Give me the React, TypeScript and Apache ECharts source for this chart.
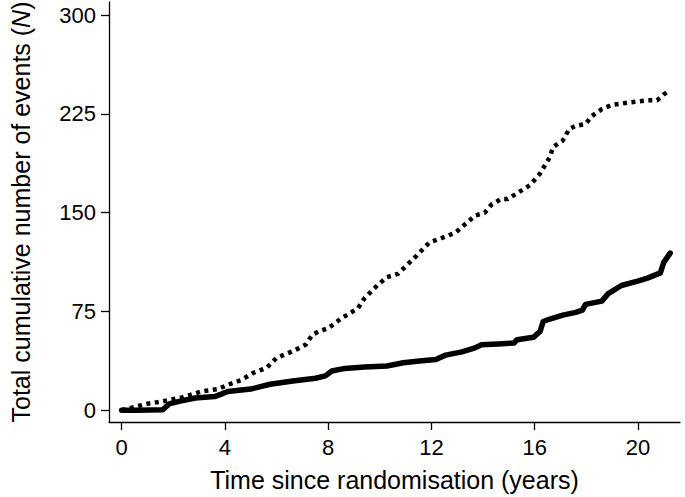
import React, { useEffect, useRef } from "react";
import * as echarts from "echarts";

const xTicks = [0, 4, 8, 12, 16, 20];
const yTicks = [0, 75, 150, 225, 300];

const solidTime = [0, 0.58, 1.59, 1.84, 2.22, 2.85, 3.6, 3.86, 4.11, 5.0, 5.75, 6.63, 7.51, 7.89, 8.14, 8.65, 9.4, 10.28, 10.91, 11.54, 12.17, 12.55, 13.18, 13.69, 13.94, 14.57, 15.2, 15.32, 15.95, 16.21, 16.33, 16.59, 17.09, 17.59, 17.85, 17.97, 18.6, 18.85, 19.36, 19.99, 20.37, 20.87, 21.0, 21.25];
const solidEvents = [0, 0, 0.3, 4.7, 6.7, 9.2, 10.3, 12.2, 14.2, 16, 19.7, 22.2, 24.2, 26, 29.7, 31.7, 32.7, 33.5, 36, 37.3, 38.5, 41.8, 44.3, 47.3, 49.7, 50.3, 51, 53.5, 55.3, 59.8, 67.3, 69.2, 72.2, 74.3, 76, 80.3, 82.8, 88.5, 94.7, 98, 100.3, 104.3, 112.3, 119.3];

const dottedTime = [0, 0.96, 1.59, 2.34, 3.1, 3.73, 4.11, 4.61, 5.12, 5.62, 6.0, 6.63, 7.13, 7.38, 7.64, 8.0, 8.52, 9.15, 9.4, 9.9, 10.28, 10.7, 11.42, 11.92, 12.43, 12.93, 13.69, 14.06, 14.32, 14.7, 14.95, 15.32, 15.83, 16.21, 16.59, 16.71, 17.09, 17.34, 17.59, 17.97, 18.22, 18.6, 18.98, 19.6, 20.37, 20.74, 21.0, 21.25];
const dottedEvents = [0, 4.7, 6.7, 9.7, 14.2, 16, 19.2, 22.7, 28.5, 32.2, 39.7, 44.8, 49.7, 57.2, 59.8, 62.2, 69.8, 77.3, 84.8, 94.7, 101, 103.5, 117.2, 127.3, 131, 134.8, 147.8, 149.8, 156, 160.3, 160.3, 164.8, 171, 179.8, 192.3, 199.8, 204.8, 213.6, 216, 217.3, 223.5, 228.6, 231.8, 233.5, 235.3, 235.3, 239.8, 242.8];

const xTitle = "Time since randomisation (years)";
const yTitle = "Total cumulative number of events ({i|N})";

export default function App() {
  const ref = useRef<HTMLDivElement>(null);
  useEffect(() => {
    document.body.style.margin = "0";
    const chart = echarts.init(ref.current!, null, { renderer: "svg" });
    const font = "'Liberation Sans', Arial, Helvetica, sans-serif";
    chart.setOption({
      animation: false,
      backgroundColor: "#ffffff",
      grid: { left: 95, top: 0, width: 585, height: 425 },
      xAxis: {
        type: "value",
        min: -0.49,
        max: 21.63,
        name: xTitle,
        nameLocation: "middle",
        nameGap: 45,
        nameTextStyle: { fontSize: 25, color: "#000", fontFamily: font },
        axisLine: { show: true, onZero: false, lineStyle: { color: "#000", width: 1.3 } },
        axisTick: { show: true, length: 8, inside: false, customValues: xTicks, lineStyle: { color: "#000", width: 1.3 } },
        axisLabel: { show: true, customValues: xTicks, fontSize: 22, color: "#000", margin: 14, fontFamily: font },
        splitLine: { show: false },
      },
      yAxis: {
        type: "value",
        min: -9,
        max: 310,
        name: yTitle,
        nameLocation: "middle",
        nameGap: 76,
        nameTextStyle: {
          fontSize: 25,
          color: "#000",
          fontFamily: font,
          rich: { i: { fontStyle: "italic", fontSize: 25, color: "#000", fontFamily: font } },
        },
        axisLine: { show: true, onZero: false, lineStyle: { color: "#000", width: 1.3 } },
        axisTick: { show: true, length: 8, inside: false, customValues: yTicks, lineStyle: { color: "#000", width: 1.3 } },
        axisLabel: { show: true, customValues: yTicks, fontSize: 22, color: "#000", margin: 13, fontFamily: font },
        splitLine: { show: false },
      },
      series: [
        {
          type: "line",
          data: dottedTime.map((t, i) => [t, dottedEvents[i]]),
          symbol: "none",
          lineStyle: { color: "#000", width: 4.5, type: [4, 4.5], cap: "butt" },
          z: 2,
        },
        {
          type: "line",
          data: solidTime.map((t, i) => [t, solidEvents[i]]),
          symbol: "none",
          lineStyle: { color: "#000", width: 5.5, type: "solid", cap: "round", join: "round" },
          z: 3,
        },
      ],
    });
    return () => chart.dispose();
  }, []);
  return <div ref={ref} style={{ position: "absolute", left: 0, top: 0, width: 685, height: 497 }} />;
}
